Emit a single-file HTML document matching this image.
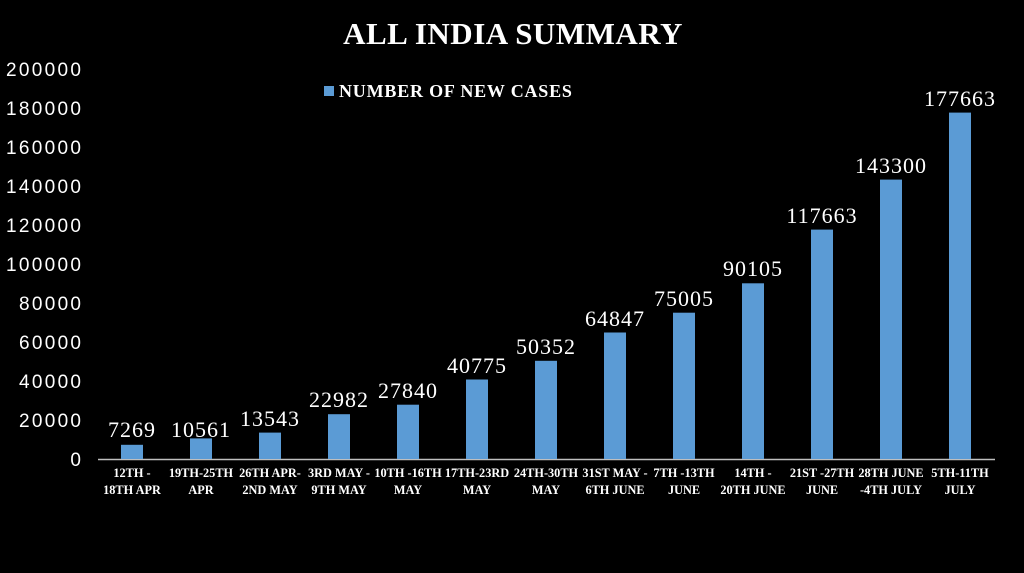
<!DOCTYPE html>
<html><head><style>
html,body{margin:0;padding:0;background:#000;}
svg{display:block;}
</style></head><body>
<svg width="1024" height="573" xmlns="http://www.w3.org/2000/svg">
<rect width="1024" height="573" fill="#000"/>
<text x="513" y="44" text-anchor="middle" font-family="Liberation Serif, serif" font-weight="bold" font-size="31" letter-spacing="0.5" fill="#fff">ALL INDIA  SUMMARY</text>
<rect x="324" y="86" width="10" height="10" fill="#5b9bd5"/>
<text x="339" y="97" font-family="Liberation Serif, serif" font-weight="bold" font-size="18" letter-spacing="0.8" fill="#fff">NUMBER OF NEW CASES</text>
<g font-family="Liberation Sans, sans-serif" font-size="19" fill="#fff" text-anchor="end">
<text x="81" y="466">0</text>
<text x="81" y="427" textLength="62">20000</text>
<text x="81" y="388" textLength="62">40000</text>
<text x="81" y="349" textLength="62">60000</text>
<text x="81" y="310" textLength="62">80000</text>
<text x="81" y="271" textLength="75">100000</text>
<text x="81" y="232" textLength="75">120000</text>
<text x="81" y="193" textLength="75">140000</text>
<text x="81" y="154" textLength="75">160000</text>
<text x="81" y="115" textLength="75">180000</text>
<text x="81" y="76" textLength="75">200000</text>
</g>
<line x1="98" y1="459.5" x2="995" y2="459.5" stroke="#bfbfbf" stroke-width="1.5"/>
<g fill="#5b9bd5">
<rect x="121" y="444.8" width="22" height="14.2"/>
<rect x="190" y="438.4" width="22" height="20.6"/>
<rect x="259" y="432.6" width="22" height="26.4"/>
<rect x="328" y="414.2" width="22" height="44.8"/>
<rect x="397" y="404.7" width="22" height="54.3"/>
<rect x="466" y="379.5" width="22" height="79.5"/>
<rect x="535" y="360.8" width="22" height="98.2"/>
<rect x="604" y="332.5" width="22" height="126.5"/>
<rect x="673" y="312.7" width="22" height="146.3"/>
<rect x="742" y="283.3" width="22" height="175.7"/>
<rect x="811" y="229.6" width="22" height="229.4"/>
<rect x="880" y="179.6" width="22" height="279.4"/>
<rect x="949" y="112.6" width="22" height="346.4"/>
</g>
<g font-family="Liberation Serif, serif" font-size="22" letter-spacing="1" fill="#fff" text-anchor="middle">
<text x="132" y="437">7269</text>
<text x="201" y="437">10561</text>
<text x="270" y="426">13543</text>
<text x="339" y="407">22982</text>
<text x="408" y="398">27840</text>
<text x="477" y="373">40775</text>
<text x="546" y="354">50352</text>
<text x="615" y="326">64847</text>
<text x="684" y="306">75005</text>
<text x="753" y="276">90105</text>
<text x="822" y="223">117663</text>
<text x="891" y="173">143300</text>
<text x="960" y="106">177663</text>
</g>
<g font-family="Liberation Serif, serif" font-weight="bold" font-size="12.3" fill="#fff" text-anchor="middle">
<text x="132" y="477">12TH -</text><text x="132" y="494">18TH APR</text>
<text x="201" y="477">19TH-25TH</text><text x="201" y="494">APR</text>
<text x="270" y="477">26TH APR-</text><text x="270" y="494">2ND MAY</text>
<text x="339" y="477">3RD MAY -</text><text x="339" y="494">9TH MAY</text>
<text x="408" y="477">10TH -16TH</text><text x="408" y="494">MAY</text>
<text x="477" y="477">17TH-23RD</text><text x="477" y="494">MAY</text>
<text x="546" y="477">24TH-30TH</text><text x="546" y="494">MAY</text>
<text x="615" y="477">31ST MAY -</text><text x="615" y="494">6TH JUNE</text>
<text x="684" y="477">7TH -13TH</text><text x="684" y="494">JUNE</text>
<text x="753" y="477">14TH -</text><text x="753" y="494">20TH JUNE</text>
<text x="822" y="477">21ST -27TH</text><text x="822" y="494">JUNE</text>
<text x="891" y="477">28TH JUNE</text><text x="891" y="494">-4TH JULY</text>
<text x="960" y="477">5TH-11TH</text><text x="960" y="494">JULY</text>
</g>
</svg>
</body></html>
